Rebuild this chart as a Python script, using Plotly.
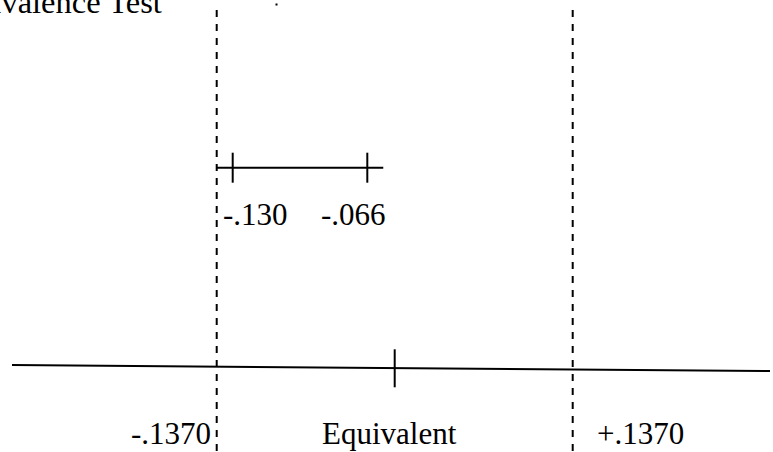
import plotly.graph_objects as go

# ---- chart values ----
title_text = "Equivalence Test"
bounds = [-0.1370, 0.1370]
bound_labels = ["-.1370", "+.1370"]
center_value = 0.0
center_label = "Equivalent"
ci_values = [-0.130, -0.066]
ci_labels = ["-.130", "-.066"]

# ---- geometry / style ----
W, H = 773, 452
FONT = "Liberation Serif, Times New Roman, serif"
FS = 31
TITLE_FS = 32.5
INK = "black"

# horizontal scales: the equivalence scale (bottom) and the CI row (top)
XR_SCALE = [-0.30379, 0.29116]
XR_CI = [-0.24065, 0.12691]
CI_PAD = 0.0076

# vertical rows (y axis measured downward from the top edge)
ROW_CI = 167.7
CI_TICK_HALF = 15
ROW_TICK = (349.3, 387.3)
DASH_TOP = 10
BASE_LINE = ((12, 365), (770, 371))

fig = go.Figure()

# dashed equivalence bounds
for b in bounds:
    fig.add_trace(go.Scatter(
        x=[b, b], y=[DASH_TOP, H], mode="lines", xaxis="x", yaxis="y",
        line=dict(color=INK, width=2, dash="7px,7px"), hoverinfo="skip"))

# centre tick on the scale line
fig.add_trace(go.Scatter(
    x=[center_value, center_value], y=list(ROW_TICK), mode="lines",
    xaxis="x", yaxis="y", line=dict(color=INK, width=2), hoverinfo="skip"))

# confidence interval segment with end ticks
fig.add_trace(go.Scatter(
    x=[ci_values[0] - CI_PAD, ci_values[1] + CI_PAD], y=[ROW_CI, ROW_CI],
    mode="lines", xaxis="x2", yaxis="y",
    line=dict(color=INK, width=2), hoverinfo="skip"))
tx, ty = [], []
for v in ci_values:
    tx += [v, v, None]
    ty += [ROW_CI - CI_TICK_HALF, ROW_CI + CI_TICK_HALF, None]
fig.add_trace(go.Scatter(
    x=tx, y=ty, mode="lines", xaxis="x2", yaxis="y",
    line=dict(color=INK, width=2), hoverinfo="skip"))

shapes = [
    # the scale line
    dict(type="line", xref="paper", yref="y",
         x0=BASE_LINE[0][0] / W, y0=BASE_LINE[0][1],
         x1=BASE_LINE[1][0] / W, y1=BASE_LINE[1][1],
         line=dict(color=INK, width=2)),
    # small dot near the heading
    dict(type="rect", xref="paper", yref="y",
         x0=275.5 / W, x1=277.5 / W, y0=3.5, y1=5.5,
         fillcolor=INK, line=dict(width=0)),
]

font = dict(family=FONT, size=FS, color=INK)
annotations = [
    dict(text=title_text, xref="paper", yref="y", x=164 / W, y=1.5,
         xanchor="right", yanchor="middle", showarrow=False,
         font=dict(family=FONT, size=TITLE_FS, color=INK)),
    dict(text=bound_labels[0], xref="x", yref="y", x=bounds[0], y=433.8,
         xanchor="right", yanchor="middle", xshift=-4, showarrow=False, font=font),
    dict(text=bound_labels[1], xref="x", yref="y", x=bounds[1], y=433.8,
         xanchor="left", yanchor="middle", xshift=22, showarrow=False, font=font),
    dict(text=center_label, xref="x", yref="y", x=center_value, y=433.8,
         xanchor="center", yanchor="middle", xshift=-5, showarrow=False, font=font),
    dict(text=ci_labels[0], xref="x2", yref="y", x=ci_values[0], y=214.5,
         xanchor="center", yanchor="middle", xshift=22.5, showarrow=False, font=font),
    dict(text=ci_labels[1], xref="x2", yref="y", x=ci_values[1], y=214.5,
         xanchor="center", yanchor="middle", xshift=-13.5, showarrow=False, font=font),
]

axis_off = dict(visible=False, showgrid=False, zeroline=False, fixedrange=True)
fig.update_layout(
    width=W, height=H, autosize=False,
    margin=dict(l=0, r=0, t=0, b=0, pad=0),
    paper_bgcolor="white", plot_bgcolor="white",
    showlegend=False, hovermode=False,
    xaxis=dict(range=XR_SCALE, domain=[0, 1], **axis_off),
    xaxis2=dict(range=XR_CI, domain=[0, 1], overlaying="x", **axis_off),
    yaxis=dict(range=[H, 0], domain=[0, 1], **axis_off),
    shapes=shapes, annotations=annotations,
)

fig.write_html("out.html", config=dict(displayModeBar=False, staticPlot=True))
